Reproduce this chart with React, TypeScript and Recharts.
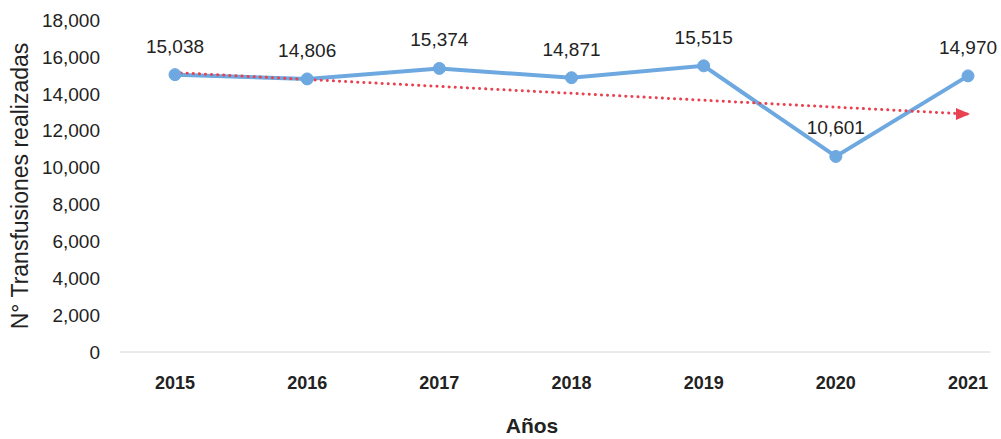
import { LineChart, Line, XAxis, YAxis, LabelList } from "recharts";

// valores
const years = ["2015", "2016", "2017", "2018", "2019", "2020", "2021"];
const transfusiones = [15038, 14806, 15374, 14871, 15515, 10601, 14970];
// linea de tendencia (solo extremos)
const tendencia = [15150, null, null, null, null, null, 12900];
const yTicks = [0, 2000, 4000, 6000, 8000, 10000, 12000, 14000, 16000, 18000];

const chartData = years.map((y, i) => ({
  year: y,
  total: transfusiones[i],
  trend: tendencia[i],
}));

const FONT = '"Liberation Sans", Arial, sans-serif';

const formatNum = (v: number) => v.toLocaleString("en-US");

// punta de flecha al final de la tendencia
const ArrowDot = (props: any) => {
  const { cx, cy, index } = props;
  if (index !== years.length - 1 || cx == null) return <g key={index} />;
  return (
    <path
      key={index}
      d={`M${cx + 2},${cy} L${cx - 12},${cy - 6} L${cx - 12},${cy + 6} Z`}
      fill="#e8414f"
    />
  );
};

export default function App() {
  return (
    <div style={{ position: "absolute", left: 0, top: 0, background: "#fff" }}>
      <LineChart
        width={1001}
        height={439}
        data={chartData}
        margin={{ top: 20, right: 11, left: 0, bottom: 0 }}
      >
        <XAxis
          dataKey="year"
          height={87}
          padding={{ left: 55, right: 22 }}
          axisLine={{ stroke: "#d4d4d4" }}
          tickLine={false}
          tickSize={0}
          tickMargin={24}
          tick={{ fontSize: 18, fontWeight: 700, fill: "#222", fontFamily: FONT }}
          label={{
            value: "Años",
            position: "insideBottom",
            offset: 6,
            dx: -23,
            style: { fontSize: 21, fontWeight: 700, fill: "#222", fontFamily: FONT },
          }}
        />
        <YAxis
          width={120}
          domain={[0, 18000]}
          ticks={yTicks}
          interval={0}
          axisLine={false}
          tickLine={false}
          tickSize={0}
          tickMargin={20}
          tickFormatter={formatNum}
          tick={{ fontSize: 19, fill: "#222", fontFamily: FONT }}
          label={{
            value: "N° Transfusiones realizadas",
            angle: -90,
            position: "insideLeft",
            offset: 20,
            style: { fontSize: 23, fill: "#222", fontFamily: FONT, textAnchor: "middle" },
          }}
        />
        <Line
          dataKey="total"
          stroke="#6ea8e0"
          strokeWidth={4}
          dot={{ r: 6, fill: "#6ea8e0", stroke: "#6ea8e0", strokeWidth: 1 }}
          activeDot={false}
          isAnimationActive={false}
        >
          <LabelList
            dataKey="total"
            position="top"
            offset={22}
            formatter={(v: any) => formatNum(Number(v))}
            style={{ fontSize: 19, fill: "#222", fontFamily: FONT }}
          />
        </Line>
        <Line
          dataKey="trend"
          connectNulls
          stroke="#e8414f"
          strokeWidth={3}
          strokeLinecap="round"
          strokeDasharray="0.1 6"
          dot={<ArrowDot />}
          activeDot={false}
          isAnimationActive={false}
        />
      </LineChart>
    </div>
  );
}
